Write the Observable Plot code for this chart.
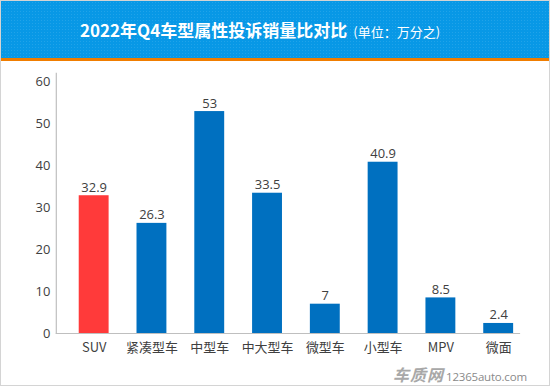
<!DOCTYPE html>
<html>
<head>
<meta charset="utf-8">
<script src="https://cdn.jsdelivr.net/npm/d3@7"></script>
<script src="https://cdn.jsdelivr.net/npm/@observablehq/plot@0.6"></script>
<style>
  html, body { margin: 0; padding: 0; background: #fff; }
  #wrap { position: relative; width: 550px; height: 386px; box-sizing: border-box;
          border: 1px solid #d4d4d4; overflow: hidden; font-family: "Noto Sans CJK SC", "Open Sans", sans-serif; }
  #header { position: absolute; left: 0; top: 0; width: 550px; height: 57px;
            background-color: #0898e6;
            background-image: radial-gradient(rgba(255,255,255,0.10) 0.8px, transparent 1px);
            background-size: 3px 3px;
            border-bottom: 3px solid #f07d00; text-align: center; color: #fff; }
  #header .t { position: absolute; left: 79px; top: 16px; font-size: 17px; font-weight: bold; white-space: nowrap; line-height: 26px; }
  #header .u { font-size: 13px; font-weight: normal; margin-left: 6px; }
  #chart { position: absolute; left: 0; top: 60px; }
  #wm { position: absolute; left: 392px; top: 363px; white-space: nowrap; line-height: 20px; }
  #wm .logo { font-size: 16px; font-weight: bold; color: #a8a8a8; letter-spacing: 1px; font-style: italic; }
  #wm .site { font-family: "Open Sans", sans-serif; font-size: 11.5px; color: #8a8a8a; margin-left: 2px; letter-spacing: -0.2px; }
</style>
</head>
<body>
<div id="wrap">
  <div id="header"><div class="t">2022年Q4车型属性投诉销量比对比<span class="u">(单位：万分之)</span></div></div>
  <div id="chart"></div>
  <div id="wm"><span class="logo">车质网</span><span class="site">12365auto.com</span></div>
</div>
<script>
const categories = ["SUV", "紧凑型车", "中型车", "中大型车", "微型车", "小型车", "MPV", "微面"];
const values = [32.9, 26.3, 53, 33.5, 7, 40.9, 8.5, 2.4];
const valueLabels = ["32.9", "26.3", "53", "33.5", "7", "40.9", "8.5", "2.4"];
const yTicks = [0, 10, 20, 30, 40, 50, 60];
const highlight = "SUV";

const data = categories.map((c, i) => ({category: c, value: values[i], label: valueLabels[i]}));

const chart = Plot.plot({
  width: 550,
  height: 326,
  marginLeft: 55,
  marginRight: 29,
  marginTop: 12,
  marginBottom: 53,
  style: {fontFamily: '"Open Sans", "Noto Sans CJK SC", sans-serif', fontSize: "13px", color: "#404040", background: "transparent"},
  x: {domain: categories, paddingInner: 0.485, paddingOuter: 0.239, align: 0.75, label: null},
  y: {domain: [0, 62.1], label: null},
  marks: [
    Plot.barY(data, {x: "category", y: "value", fill: d => d.category === highlight ? "#ff3a3a" : "#0070c0"}),
    Plot.text(data, {x: "category", y: "value", text: "label", lineAnchor: "bottom", dy: -4, fill: "#404040", fontSize: 13}),
    Plot.ruleY([0], {stroke: "#bfbfbf", strokeWidth: 1.2}),
    Plot.frame({anchor: "left", stroke: "#bfbfbf", strokeWidth: 1.2}),
    Plot.axisY(yTicks, {tickSize: 0, tickPadding: 6, fontSize: 13, fill: "#404040", label: null}),
    Plot.axisX({tickSize: 0, tickPadding: 9, fontSize: 13, fill: "#404040", label: null, fontFamily: '"Noto Sans CJK SC", "Open Sans", sans-serif'})
  ]
});
document.getElementById("chart").appendChild(chart);
</script>
</body>
</html>
